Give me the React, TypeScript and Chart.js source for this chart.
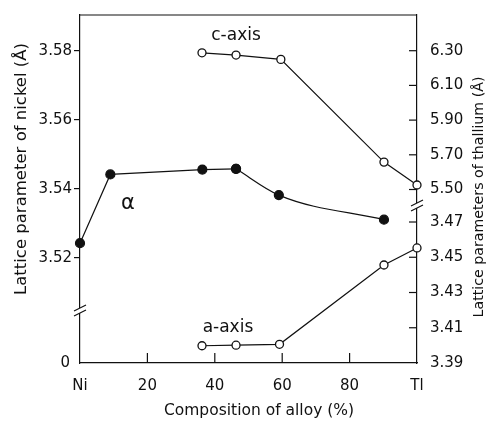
import React, { useEffect, useRef } from "react";
import { Chart, registerables } from "chart.js";

Chart.register(...registerables);

// ---- data ----
const xTickValues = [0, 20, 40, 60, 80, 100];
const xTickLabels = ["Ni", "20", "40", "60", "80", "Tl"];

const nickelTicks = [3.52, 3.54, 3.56, 3.58];
const nickelLowTicks = [0];
const thalliumCTicks = [5.5, 5.7, 5.9, 6.1, 6.3];
const thalliumATicks = [3.39, 3.41, 3.43, 3.45, 3.47];

// alpha phase (nickel lattice parameter, filled circles)
const alphaX = [0, 9, 36.3, 46.3, 59, 90.2];
const alphaY = [3.5243, 3.5442, 3.5456, 3.5458, 3.5382, 3.5311];

// thallium c-axis (open circles)
const cAxisX = [36.2, 46.3, 59.6, 90.2, 100];
const cAxisY = [6.288, 6.275, 6.25, 5.658, 5.526];

// thallium a-axis (open circles)
const aAxisX = [36.2, 46.3, 59.2, 90.2, 100];
const aAxisY = [3.3998, 3.4001, 3.4006, 3.4456, 3.4553];

// in-plot labels
const labelTexts = ["c-axis", "a-axis", "α"];
const labelX = [46.3, 43.9, 14.2];
const labelY = [6.39, 3.4099, 3.5359];
const labelAxis = ["yR", "yR0", "yL"];

const xTitle = "Composition of alloy (%)";
const leftTitle = "Lattice parameter of nickel (Å)";
const rightTitle = "Lattice parameters of thallium (Å)";

const INK = "#111";
const FONT = "'DejaVu Sans', sans-serif";

const pts = (xs: number[], ys: number[]) => xs.map((x, i) => ({ x, y: ys[i] }));

const decor = {
  id: "decor",
  afterDraw(chart: any) {
    const ctx = chart.ctx as CanvasRenderingContext2D;
    const { left, right, top, bottom } = chart.chartArea;
    const s = chart.scales;
    ctx.save();
    ctx.strokeStyle = INK;
    ctx.lineWidth = 1.2;
    const line = (x1: number, y1: number, x2: number, y2: number) => {
      ctx.beginPath();
      ctx.moveTo(x1, y1);
      ctx.lineTo(x2, y2);
      ctx.stroke();
    };
    // top frame
    line(left, top, right, top);
    // inward x ticks
    xTickValues.forEach((v) => {
      if (v === 0 || v === 100) return;
      const px = s.x.getPixelForValue(v);
      line(px, bottom, px, bottom - 10);
    });
    // inward right ticks
    thalliumCTicks.forEach((v) => {
      const py = s.yR.getPixelForValue(v);
      line(right, py, right - 8, py);
    });
    thalliumATicks.forEach((v) => {
      if (v === thalliumATicks[0]) return;
      const py = s.yR0.getPixelForValue(v);
      line(right, py, right - 8, py);
    });
    // axis breaks
    const brk = (x: number, y: number) => {
      ctx.fillStyle = "#fff";
      ctx.fillRect(x - 2, y - 2, 4, 5);
      line(x - 6, y + 1, x + 6, y - 5);
      line(x - 6, y + 6, x + 6, y);
    };
    brk(left, s.yL.bottom);
    brk(right, s.yR.bottom);

    // labels inside the plot
    ctx.fillStyle = INK;
    ctx.textAlign = "center";
    ctx.textBaseline = "middle";
    labelTexts.forEach((t, i) => {
      const px = s.x.getPixelForValue(labelX[i]);
      const py = s[labelAxis[i]].getPixelForValue(labelY[i]);
      ctx.font = t === "α" ? `21px ${FONT}` : `17px ${FONT}`;
      ctx.fillText(t, px, py);
    });

    // axis titles
    ctx.font = `15.5px ${FONT}`;
    ctx.fillText(xTitle, 259, 411);
    ctx.save();
    ctx.translate(22, 169);
    ctx.rotate(-Math.PI / 2);
    ctx.font = `16.5px ${FONT}`;
    ctx.fillText(leftTitle, 0, 0);
    ctx.restore();
    ctx.save();
    ctx.translate(479, 197);
    ctx.rotate(-Math.PI / 2);
    ctx.font = `14.2px ${FONT}`;
    ctx.fillText(rightTitle, 0, 0);
    ctx.restore();
    ctx.restore();
  },
};

export default function App() {
  const ref = useRef<HTMLCanvasElement | null>(null);
  useEffect(() => {
    document.body.style.margin = "0";
    const canvas = ref.current!;
    const filled = {
      borderColor: INK,
      backgroundColor: INK,
      pointBackgroundColor: INK,
      pointBorderColor: INK,
      pointRadius: 4.5,
      borderWidth: 1.2,
      clip: false as any,
    };
    const open = {
      borderColor: INK,
      backgroundColor: "#fff",
      pointBackgroundColor: "#fff",
      pointBorderColor: INK,
      pointBorderWidth: 1.3,
      pointRadius: 4,
      borderWidth: 1.2,
      tension: 0,
      clip: false as any,
    };
    const tickFont = { family: FONT, size: 15 };
    const chart = new Chart(canvas, {
      type: "line",
      data: {
        datasets: [
          { label: "α", data: pts(alphaX.slice(0, 4), alphaY.slice(0, 4)), yAxisID: "yL", tension: 0, ...filled },
          {
            label: "α (curve)",
            data: pts(alphaX.slice(3), alphaY.slice(3)),
            yAxisID: "yL",
            cubicInterpolationMode: "monotone",
            ...filled,
          },
          { label: "c-axis", data: pts(cAxisX, cAxisY), yAxisID: "yR", ...open },
          { label: "a-axis", data: pts(aAxisX, aAxisY), yAxisID: "yR0", ...open },
        ],
      },
      options: {
        responsive: false,
        animation: false,
        layout: { padding: { top: 15, left: 0, right: 0, bottom: 0 } },
        plugins: { legend: { display: false }, tooltip: { enabled: false } },
        scales: {
          x: {
            type: "linear",
            min: 0,
            max: 100,
            afterBuildTicks: (sc: any) => {
              sc.ticks = xTickValues.map((value) => ({ value }));
            },
            afterFit: (sc: any) => {
              sc.height = 58;
            },
            ticks: {
              font: tickFont,
              color: INK,
              padding: 6,
              maxRotation: 0,
              callback: (v: any) => xTickLabels[xTickValues.indexOf(Number(v))] ?? "",
            },
            grid: { display: false },
            border: { display: true, color: INK, width: 1.2 },
          },
          yL0: {
            type: "linear",
            position: "left",
            stack: "L",
            stackWeight: 53,
            min: 0,
            max: 1,
            afterBuildTicks: (sc: any) => {
              sc.ticks = nickelLowTicks.map((value) => ({ value }));
            },
            afterFit: (sc: any) => {
              sc.width = 80;
            },
            ticks: { font: tickFont, color: INK, padding: 2, callback: (v: any) => String(v) },
            grid: { display: false },
            border: { display: true, color: INK, width: 1.2 },
          },
          yL: {
            type: "linear",
            position: "left",
            stack: "L",
            stackWeight: 295,
            min: 3.50495,
            max: 3.59033,
            afterBuildTicks: (sc: any) => {
              sc.ticks = nickelTicks.map((value) => ({ value }));
            },
            afterFit: (sc: any) => {
              sc.width = 80;
            },
            ticks: { font: tickFont, color: INK, padding: 2, callback: (v: any) => Number(v).toFixed(2) },
            grid: { display: true, drawOnChartArea: false, drawTicks: true, tickLength: 6, color: INK, lineWidth: 1.2 },
            border: { display: true, color: INK, width: 1.2 },
          },
          yR: {
            type: "linear",
            position: "right",
            stack: "R",
            stackWeight: 190,
            min: 5.4107,
            max: 6.5058,
            afterBuildTicks: (sc: any) => {
              sc.ticks = thalliumCTicks.map((value) => ({ value }));
            },
            afterFit: (sc: any) => {
              sc.width = 75;
            },
            ticks: { font: tickFont, color: INK, padding: 5, callback: (v: any) => Number(v).toFixed(2) },
            grid: { display: false },
            border: { display: true, color: INK, width: 1.2 },
          },
          yR0: {
            type: "linear",
            position: "right",
            stack: "R",
            stackWeight: 158,
            min: 3.39,
            max: 3.47965,
            afterBuildTicks: (sc: any) => {
              sc.ticks = thalliumATicks.map((value) => ({ value }));
            },
            afterFit: (sc: any) => {
              sc.width = 75;
            },
            ticks: { font: tickFont, color: INK, padding: 5, callback: (v: any) => Number(v).toFixed(2) },
            grid: { display: false },
            border: { display: true, color: INK, width: 1.2 },
          },
        },
      } as any,
      plugins: [decor],
    });
    return () => chart.destroy();
  }, []);
  return <canvas ref={ref} width={492} height={421} style={{ display: "block" }} />;
}
